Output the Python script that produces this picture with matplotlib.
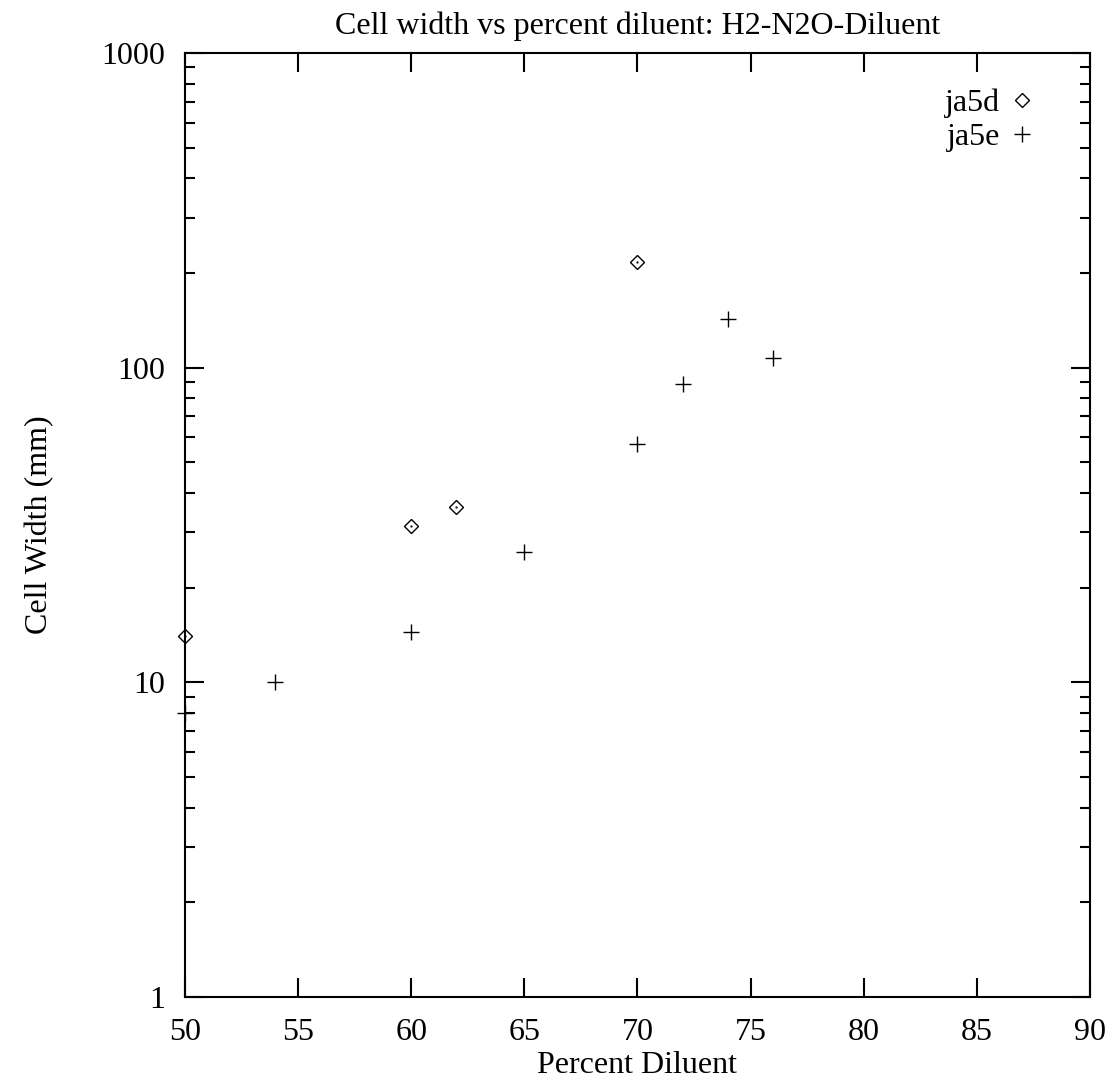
import matplotlib
matplotlib.use("Agg")
import matplotlib.pyplot as plt
from matplotlib.ticker import LogLocator, NullFormatter, MultipleLocator, FixedLocator

plt.rcParams['font.family'] = ['Liberation Serif', 'DejaVu Serif']

# data
ja5d_x = [50, 60, 62, 70]
ja5d_y = [14, 31.5, 36, 216]
ja5e_x = [50, 54, 60, 65, 70, 72, 74, 76]
ja5e_y = [8, 10, 14.5, 26, 57, 89, 143, 107]

fig = plt.figure(figsize=(11.17, 10.8), dpi=100)
ax = fig.add_axes([0.1656, 0.0769, 0.9758 - 0.1656, 0.9509 - 0.0769])

ax.plot(ja5d_x, ja5d_y, linestyle='none', marker='D', markersize=7.5,
        markerfacecolor='none', markeredgecolor='black', markeredgewidth=1.0,
        clip_on=False, label='ja5d')
# gnuplot puts a little dot in the middle of each diamond
ax.plot(ja5d_x, ja5d_y, linestyle='none', marker='.', markersize=1.2,
        color='black', clip_on=False)
ax.plot(ja5e_x, ja5e_y, linestyle='none', marker='+', markersize=12,
        color='black', markeredgewidth=1.0, clip_on=False, label='ja5e')

ax.set_yscale('log')
ax.set_xlim(50, 90)
ax.set_ylim(1, 1000)
ax.xaxis.set_major_locator(MultipleLocator(5))
ax.yaxis.set_major_locator(FixedLocator([1, 10, 100, 1000]))
ax.yaxis.set_major_formatter(matplotlib.ticker.FuncFormatter(lambda v, p: '%g' % v))
ax.yaxis.set_minor_locator(LogLocator(base=10, subs=range(2, 10)))
ax.yaxis.set_minor_formatter(NullFormatter())

ax.tick_params(which='both', direction='in', top=True, right=True,
               labelsize=23, width=1.5)
ax.tick_params(axis='y', pad=14)
ax.tick_params(axis='x', pad=15)
ax.tick_params(which='major', length=14)
ax.tick_params(which='minor', length=7)
for s in ax.spines.values():
    s.set_linewidth(1.5)

ax.set_title('Cell width vs percent diluent: H2-N2O-Diluent', fontsize=23, pad=14)
ax.set_xlabel('Percent Diluent', fontsize=23, labelpad=3)
ax.set_ylabel('Cell Width (mm)', fontsize=23, labelpad=34)

ax.legend(loc='upper right', frameon=False, markerfirst=False, fontsize=23,
          handlelength=0.8, handletextpad=0.28, labelspacing=0.13,
          borderaxespad=0, borderpad=0, bbox_to_anchor=(0.939, 0.962))

fig.savefig('out.png', dpi=100)
